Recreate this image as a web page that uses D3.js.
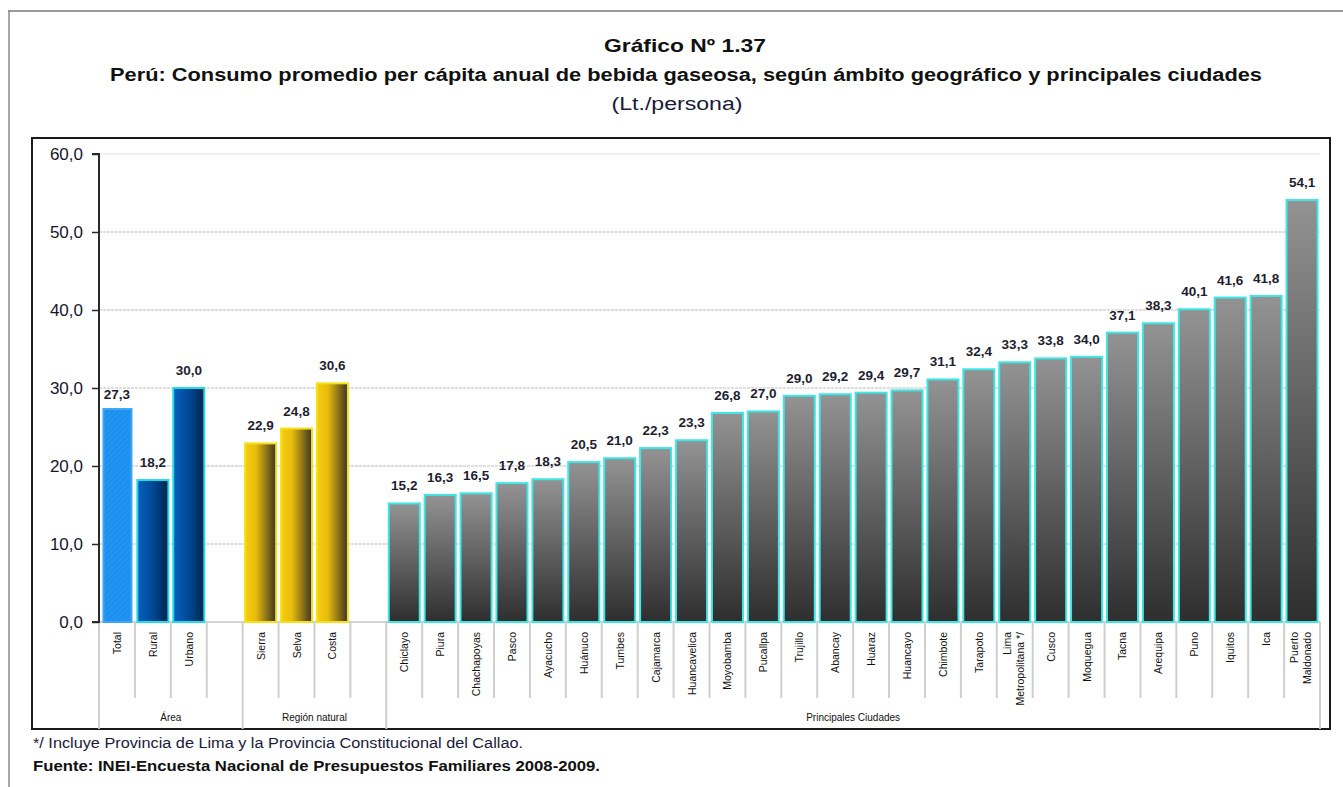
<!DOCTYPE html>
<html>
<head>
<meta charset="utf-8">
<script src="https://cdn.jsdelivr.net/npm/d3@7"></script>
<style>
  body { margin: 0; background: #fff; }
  svg { display: block; font-family: "Liberation Sans", Arial, sans-serif; }
</style>
</head>
<body>
<div id="chart"></div>
<script>
// datos del gráfico
const areaLabels = ["Total", "Rural", "Urbano"];
const areaValues = [27.3, 18.2, 30.0];
const regionLabels = ["Sierra", "Selva", "Costa"];
const regionValues = [22.9, 24.8, 30.6];
const cityLabels = ["Chiclayo", "Piura", "Chachapoyas", "Pasco", "Ayacucho", "Huánuco", "Tumbes",
  "Cajamarca", "Huancavelica", "Moyobamba", "Pucallpa", "Trujillo", "Abancay", "Huaraz", "Huancayo",
  "Chimbote", "Tarapoto", "Lima\nMetropolitana */", "Cusco", "Moquegua", "Tacna", "Arequipa", "Puno",
  "Iquitos", "Ica", "Puerto\nMaldonado"];
const cityValues = [15.2, 16.3, 16.5, 17.8, 18.3, 20.5, 21.0, 22.3, 23.3, 26.8, 27.0, 29.0, 29.2, 29.4,
  29.7, 31.1, 32.4, 33.3, 33.8, 34.0, 37.1, 38.3, 40.1, 41.6, 41.8, 54.1];
const groupLabels = ["Área", "Región natural", "Principales Ciudades"];
const yTicks = [0, 10, 20, 30, 40, 50, 60];

// armar las filas (con espacios vacíos entre grupos)
const rows = [];
areaLabels.forEach((l, i) => rows.push({ key: "a" + i, label: l, value: areaValues[i], kind: i === 0 ? "total" : "area" }));
rows.push({ key: "gap1", label: "", value: null });
regionLabels.forEach((l, i) => rows.push({ key: "r" + i, label: l, value: regionValues[i], kind: "region" }));
rows.push({ key: "gap2", label: "", value: null });
cityLabels.forEach((l, i) => rows.push({ key: "c" + i, label: l, value: cityValues[i], kind: "city" }));

const W = 1343, H = 787;
const plotLeft = 99, plotRight = 1320, plotTop = 154, plotBase = 622;

const svg = d3.select("#chart").append("svg")
  .attr("width", W).attr("height", H);

const defs = svg.append("defs");

const blue = defs.append("linearGradient").attr("id", "blueGrad")
  .attr("x1", "0%").attr("x2", "100%").attr("y1", "0%").attr("y2", "0%");
blue.append("stop").attr("offset", "0%").attr("stop-color", "#0a5fbf");
blue.append("stop").attr("offset", "45%").attr("stop-color", "#004c9a");
blue.append("stop").attr("offset", "100%").attr("stop-color", "#00254f");

const gold = defs.append("linearGradient").attr("id", "goldGrad")
  .attr("x1", "0%").attr("x2", "100%").attr("y1", "0%").attr("y2", "0%");
gold.append("stop").attr("offset", "0%").attr("stop-color", "#f6cd10");
gold.append("stop").attr("offset", "35%").attr("stop-color", "#e8bc0c");
gold.append("stop").attr("offset", "100%").attr("stop-color", "#3c3322");

const gray = defs.append("linearGradient").attr("id", "grayGrad")
  .attr("x1", "0%").attr("x2", "0%").attr("y1", "0%").attr("y2", "100%");
gray.append("stop").attr("offset", "0%").attr("stop-color", "#939393");
gray.append("stop").attr("offset", "100%").attr("stop-color", "#2e2e2e");

const hatch = defs.append("pattern").attr("id", "hatch")
  .attr("patternUnits", "userSpaceOnUse").attr("width", 4).attr("height", 4)
  .attr("patternTransform", "rotate(45)");
hatch.append("rect").attr("width", 4).attr("height", 4).attr("fill", "#1c90ee");
hatch.append("line").attr("x1", 0).attr("y1", 0).attr("x2", 0).attr("y2", 4)
  .attr("stroke", "#2a9bf2").attr("stroke-width", 1.5);

// marcos
svg.append("line").attr("x1", 8).attr("x2", W).attr("y1", 11).attr("y2", 11)
  .attr("stroke", "#9a9a9a").attr("stroke-width", 2);
svg.append("line").attr("x1", 9).attr("x2", 9).attr("y1", 11).attr("y2", H)
  .attr("stroke", "#8a8a8a").attr("stroke-width", 1.5);
svg.append("rect").attr("x", 32).attr("y", 138).attr("width", 1298).attr("height", 591)
  .attr("fill", "none").attr("stroke", "#1a1a1a").attr("stroke-width", 2);

// títulos
svg.append("text").attr("x", 685).attr("y", 52).attr("text-anchor", "middle")
  .attr("font-size", 19).attr("font-weight", "bold").attr("fill", "#111")
  .attr("textLength", 162).attr("lengthAdjust", "spacingAndGlyphs")
  .text("Gráfico Nº 1.37");
svg.append("text").attr("x", 686).attr("y", 81).attr("text-anchor", "middle")
  .attr("font-size", 18).attr("font-weight", "bold").attr("fill", "#111")
  .attr("textLength", 1152).attr("lengthAdjust", "spacingAndGlyphs")
  .text("Perú: Consumo promedio per cápita anual de bebida gaseosa, según ámbito geográfico y principales ciudades");
svg.append("text").attr("x", 677).attr("y", 110).attr("text-anchor", "middle")
  .attr("font-size", 18).attr("fill", "#1a1a3a")
  .attr("textLength", 131).attr("lengthAdjust", "spacingAndGlyphs")
  .text("(Lt./persona)");

// escalas
const x = d3.scaleBand().domain(rows.map(d => d.key)).range([plotLeft, plotRight])
  .paddingInner(0.08).paddingOuter(0.04);
const y = d3.scaleLinear().domain([0, 60]).range([plotBase, plotTop]);
const step = x.step();

// grilla
svg.append("g").selectAll("line").data(yTicks.filter(d => d > 0)).join("line")
  .attr("x1", plotLeft).attr("x2", plotRight)
  .attr("y1", d => y(d)).attr("y2", d => y(d))
  .attr("stroke", d => d === 60 ? "#dcdcdc" : "#bdbdbd")
  .attr("stroke-dasharray", "3,1");

// línea base y separadores de etiquetas
svg.append("line").attr("x1", plotLeft).attr("x2", plotRight).attr("y1", plotBase).attr("y2", plotBase)
  .attr("stroke", "#c4c4c4").attr("stroke-width", 1.5);
const groupEdges = [0, 4, 8, rows.length];
svg.append("g").selectAll("line").data(d3.range(rows.length + 1)).join("line")
  .attr("x1", i => plotLeft + i * step).attr("x2", i => plotLeft + i * step)
  .attr("y1", plotBase)
  .attr("y2", i => groupEdges.includes(i) ? 729 : 698)
  .attr("stroke", "#cfcfcf").attr("stroke-width", 2);

// barras
const fills = { total: "url(#hatch)", area: "url(#blueGrad)", region: "url(#goldGrad)", city: "url(#grayGrad)" };
const strokes = { total: "#3aa6f4", area: "#22dcea", region: "#f3e21a", city: "#3ee6e6" };
const bars = rows.filter(d => d.value !== null);

svg.append("g").selectAll("rect").data(bars).join("rect")
  .attr("x", d => x(d.key) + (d.kind === "total" ? 3 : 1))
  .attr("width", d => x.bandwidth() - (d.kind === "total" ? 5 : 2))
  .attr("y", d => y(d.value))
  .attr("height", d => plotBase - y(d.value))
  .attr("fill", d => fills[d.kind])
  .attr("stroke", d => strokes[d.kind])
  .attr("stroke-width", 2);

// valores
svg.append("g").selectAll("text").data(bars).join("text")
  .attr("x", d => x(d.key) + x.bandwidth() / 2)
  .attr("y", d => y(d.value) - (d.kind === "total" ? 10 : 13))
  .attr("text-anchor", "middle")
  .attr("font-size", 13.5).attr("font-weight", "bold").attr("fill", "#1e1e30")
  .text(d => d.value.toFixed(1).replace(".", ","));

// eje Y
const yAxis = svg.append("g").attr("transform", `translate(${plotLeft},0)`)
  .call(d3.axisLeft(y).tickValues(yTicks).tickSize(7).tickPadding(9)
    .tickFormat(d => d.toFixed(1).replace(".", ",")));
yAxis.select(".domain").attr("stroke", "#2a2a2a").attr("stroke-width", 2).attr("d", `M-7,${plotTop}H0V${plotBase}H-7`);
yAxis.selectAll(".tick line").attr("stroke", "#2a2a2a").attr("stroke-width", 1.5);
yAxis.selectAll(".tick text").attr("font-size", 17).attr("fill", "#16162a")
  .attr("font-family", "'Liberation Sans', Arial, sans-serif");

// etiquetas de categoría (verticales)
const catLabels = svg.append("g").selectAll("text").data(bars).join("text")
  .attr("transform", d => `translate(${x(d.key) + x.bandwidth() / 2},632) rotate(-90)`)
  .attr("text-anchor", "end")
  .attr("font-size", 10.5).attr("fill", "#111");
catLabels.each(function (d) {
  const lines = d.label.split("\n");
  const t = d3.select(this);
  lines.forEach((ln, i) => {
    t.append("tspan").attr("x", 0)
      .attr("y", lines.length === 1 ? 4 : (i === 0 ? -4 : 9))
      .text(ln);
  });
});

// etiquetas de grupo
svg.append("g").selectAll("text").data(groupLabels).join("text")
  .attr("x", (d, i) => plotLeft + (groupEdges[i] + groupEdges[i + 1]) / 2 * step)
  .attr("y", 721)
  .attr("text-anchor", "middle")
  .attr("font-size", 10).attr("fill", "#111")
  .text(d => d);

// notas
svg.append("text").attr("x", 33).attr("y", 748)
  .attr("font-size", 14).attr("fill", "#1a1a3a")
  .attr("textLength", 490).attr("lengthAdjust", "spacingAndGlyphs")
  .text("*/ Incluye Provincia de Lima y la Provincia Constitucional del Callao.");
svg.append("text").attr("x", 33).attr("y", 771)
  .attr("font-size", 14).attr("font-weight", "bold").attr("fill", "#111")
  .attr("textLength", 567).attr("lengthAdjust", "spacingAndGlyphs")
  .text("Fuente: INEI-Encuesta Nacional de Presupuestos Familiares 2008-2009.");
</script>
</body>
</html>
